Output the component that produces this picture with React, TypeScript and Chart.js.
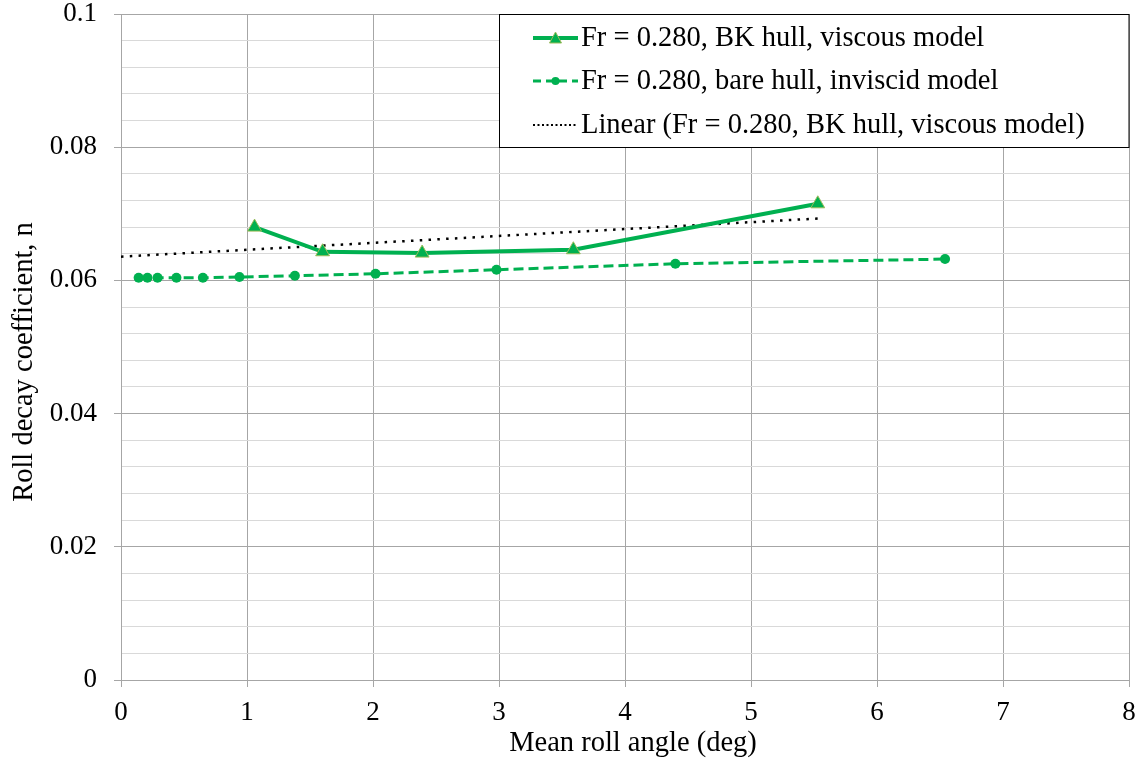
import React, { useEffect, useRef } from "react";
import { Chart, registerables } from "chart.js";

Chart.register(...registerables);

// Mean roll angle (deg) and roll decay coefficient n
const viscousAngle = [1.06, 1.6, 2.39, 3.59, 5.53];
const viscousN = [0.068, 0.0643, 0.0641, 0.0646, 0.0715];

const inviscidAngle = [0.14, 0.21, 0.29, 0.44, 0.65, 0.94, 1.38, 2.02, 2.98, 4.4, 6.54];
const inviscidN = [0.0604, 0.0604, 0.0604, 0.0604, 0.0604, 0.0605, 0.0607, 0.061, 0.0616, 0.0625, 0.0632];

const seriesLabels = [
  "Fr = 0.280, BK hull, viscous model",
  "Fr = 0.280, bare hull, inviscid model",
  "Linear (Fr = 0.280, BK hull, viscous model)",
];

const xTitle = "Mean roll angle (deg)";
const yTitle = "Roll decay coefficient, n";

const xTicks = [0, 1, 2, 3, 4, 5, 6, 7, 8];
const yTicks = [
  0, 0.004, 0.008, 0.012, 0.016, 0.02, 0.024, 0.028, 0.032, 0.036, 0.04, 0.044, 0.048,
  0.052, 0.056, 0.06, 0.064, 0.068, 0.072, 0.076, 0.08, 0.084, 0.088, 0.092, 0.096, 0.1,
];
const yLabelled = [0, 0.02, 0.04, 0.06, 0.08, 0.1];

const GREEN = "#00B050";
const TRI_EDGE = "#9BBB59";
const FONT = "'Liberation Serif', 'Times New Roman', serif";
const TEXT_SIZE = 28.5;
const TICK_SIZE = 27;

// least-squares trendline through the viscous series, from 0 to its last angle
function linearFit(xs: number[], ys: number[]) {
  const n = xs.length;
  const mx = xs.reduce((a, b) => a + b, 0) / n;
  const my = ys.reduce((a, b) => a + b, 0) / n;
  let sxy = 0;
  let sxx = 0;
  for (let i = 0; i < n; i++) {
    sxy += (xs[i] - mx) * (ys[i] - my);
    sxx += (xs[i] - mx) * (xs[i] - mx);
  }
  const slope = sxy / sxx;
  const icpt = my - slope * mx;
  const xEnd = Math.max(...xs);
  return [
    { x: 0, y: icpt },
    { x: xEnd, y: icpt + slope * xEnd },
  ];
}

const isLabelled = (v: number) => yLabelled.some((t) => Math.abs(t - v) < 1e-9);

// axis titles and the boxed legend in the upper right
const decorPlugin = {
  id: "decor",
  afterDraw(chart: any) {
    const ctx = chart.ctx;
    ctx.save();
    ctx.fillStyle = "#000000";
    ctx.font = `${TEXT_SIZE}px ${FONT}`;
    ctx.textAlign = "center";
    ctx.textBaseline = "middle";
    ctx.fillText(xTitle, 633, 744);
    ctx.save();
    ctx.translate(25, 362);
    ctx.rotate(-Math.PI / 2);
    ctx.fillText(yTitle, 0, 0);
    ctx.restore();

    const left = 499.5;
    const top = 14.5;
    const w = 629.5;
    const h = 133;
    ctx.fillStyle = "#ffffff";
    ctx.fillRect(left, top, w, h);
    ctx.strokeStyle = "#000000";
    ctx.lineWidth = 1;
    ctx.strokeRect(left, top, w, h);

    const rows = [38, 81, 125];
    const x0 = 533;
    const x1 = 578;
    const xm = (x0 + x1) / 2;

    // solid green with triangle
    ctx.strokeStyle = GREEN;
    ctx.lineWidth = 4;
    ctx.setLineDash([]);
    ctx.beginPath();
    ctx.moveTo(x0, rows[0]);
    ctx.lineTo(x1, rows[0]);
    ctx.stroke();
    ctx.fillStyle = GREEN;
    ctx.strokeStyle = TRI_EDGE;
    ctx.lineWidth = 1;
    ctx.beginPath();
    ctx.moveTo(xm, rows[0] - 6);
    ctx.lineTo(xm + 6, rows[0] + 5);
    ctx.lineTo(xm - 6, rows[0] + 5);
    ctx.closePath();
    ctx.fill();
    ctx.stroke();

    // dashed green with dot
    ctx.strokeStyle = GREEN;
    ctx.lineWidth = 3;
    ctx.setLineDash([8, 5]);
    ctx.beginPath();
    ctx.moveTo(x0, rows[1]);
    ctx.lineTo(x1, rows[1]);
    ctx.stroke();
    ctx.setLineDash([]);
    ctx.fillStyle = GREEN;
    ctx.beginPath();
    ctx.arc(xm, rows[1], 4, 0, Math.PI * 2);
    ctx.fill();

    // dotted black
    ctx.strokeStyle = "#000000";
    ctx.lineWidth = 2;
    ctx.setLineDash([2, 2.5]);
    ctx.beginPath();
    ctx.moveTo(x0, rows[2]);
    ctx.lineTo(x1, rows[2]);
    ctx.stroke();
    ctx.setLineDash([]);

    ctx.fillStyle = "#000000";
    ctx.textAlign = "left";
    ctx.textBaseline = "middle";
    seriesLabels.forEach((t, i) => ctx.fillText(t, 581, rows[i] + 1));
    ctx.restore();
  },
};

export default function App() {
  const canvasRef = useRef<HTMLCanvasElement | null>(null);

  useEffect(() => {
    if (!canvasRef.current) return;
    const trend = linearFit(viscousAngle, viscousN);
    const chart = new Chart(canvasRef.current, {
      type: "scatter",
      data: {
        datasets: [
          {
            label: seriesLabels[2],
            data: trend,
            showLine: true,
            borderColor: "#000000",
            borderWidth: 2.5,
            borderDash: [2.5, 6.3],
            pointRadius: 0,
            order: 3,
          },
          {
            label: seriesLabels[1],
            data: inviscidAngle.map((x, i) => ({ x, y: inviscidN[i] })),
            showLine: true,
            borderColor: GREEN,
            borderWidth: 3,
            borderDash: [10, 5],
            pointStyle: "circle",
            pointRadius: 5,
            pointBackgroundColor: GREEN,
            pointBorderColor: GREEN,
            pointBorderWidth: 0,
            order: 2,
          },
          {
            label: seriesLabels[0],
            data: viscousAngle.map((x, i) => ({ x, y: viscousN[i] })),
            showLine: true,
            borderColor: GREEN,
            borderWidth: 4,
            pointStyle: "triangle",
            pointRadius: 8,
            pointBackgroundColor: GREEN,
            pointBorderColor: TRI_EDGE,
            pointBorderWidth: 1,
            order: 1,
          },
        ],
      },
      options: {
        animation: false,
        responsive: false,
        layout: { padding: { left: 0, right: 12, top: 14, bottom: 0 } },
        plugins: {
          legend: { display: false },
          tooltip: { enabled: false },
        },
        scales: {
          x: {
            type: "linear",
            min: 0,
            max: 8,
            afterBuildTicks: (s: any) => {
              s.ticks = xTicks.map((v) => ({ value: v }));
            },
            afterFit: (s: any) => {
              s.height = 85;
              s.paddingLeft = 0;
              s.paddingRight = 0;
            },
            ticks: {
              color: "#000000",
              font: { family: FONT, size: TICK_SIZE },
              padding: 10,
              maxRotation: 0,
              callback: (v: any) => String(v),
            },
            grid: {
              color: "#a6a6a6",
              lineWidth: 1,
              tickLength: 7,
              tickColor: "#a6a6a6",
            },
            border: { color: "#a6a6a6", width: 1 },
          },
          y: {
            type: "linear",
            min: 0,
            max: 0.1,
            afterBuildTicks: (s: any) => {
              s.ticks = yTicks.map((v) => ({ value: v }));
            },
            afterFit: (s: any) => {
              s.width = 121;
              s.paddingTop = 0;
              s.paddingBottom = 0;
            },
            ticks: {
              color: "#000000",
              font: { family: FONT, size: TICK_SIZE },
              padding: 17,
              autoSkip: false,
              callback: (v: any) => (isLabelled(Number(v)) ? String(Number(Number(v).toFixed(3))) : ""),
            },
            grid: {
              color: (c: any) => (isLabelled(c.tick?.value ?? 0) ? "#a6a6a6" : "#d9d9d9"),
              lineWidth: 1,
              tickLength: 7,
              tickColor: (c: any) => (isLabelled(c.tick?.value ?? 0) ? "#a6a6a6" : "rgba(0,0,0,0)"),
            },
            border: { color: "#a6a6a6", width: 1 },
          },
        },
      },
      plugins: [decorPlugin],
    });
    return () => chart.destroy();
  }, []);

  return (
    <div style={{ position: "fixed", left: 0, top: 0, width: 1141, height: 765, background: "#ffffff" }}>
      <canvas ref={canvasRef} width={1141} height={765} style={{ width: 1141, height: 765 }} />
    </div>
  );
}
